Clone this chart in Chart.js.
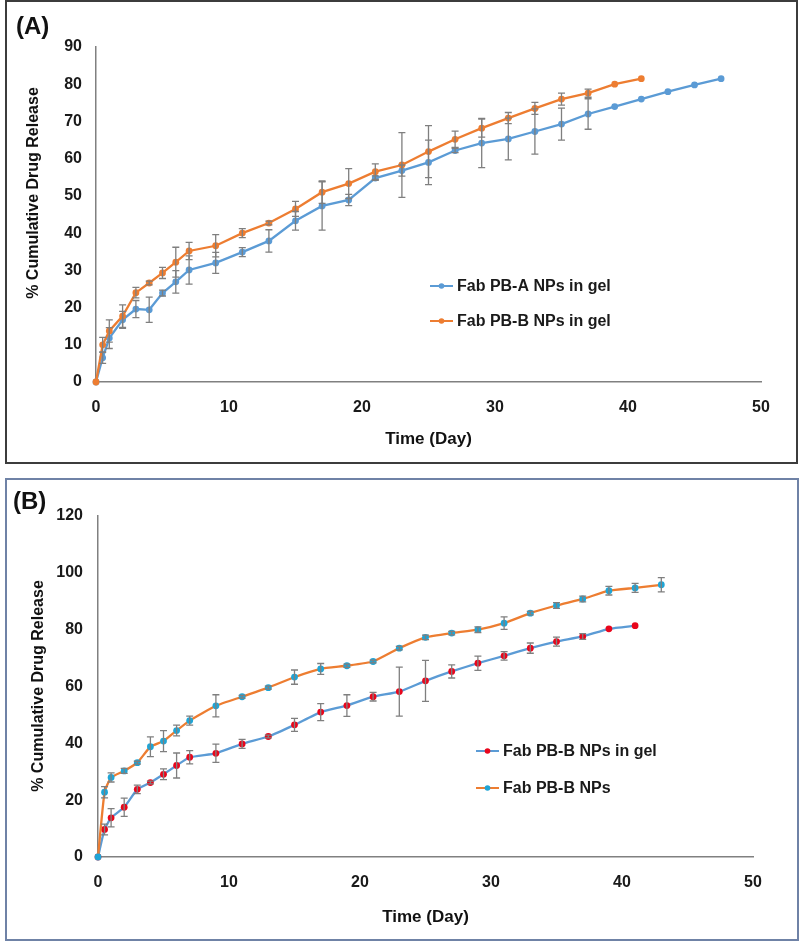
<!DOCTYPE html>
<html>
<head>
<meta charset="utf-8">
<script src="https://cdn.jsdelivr.net/npm/chart.js@4.4.0/dist/chart.umd.min.js"></script>
<style>
  body { margin: 0; background: #fff; width: 800px; height: 942px; position: relative; overflow: hidden; font-family: Arial, "Liberation Sans", sans-serif; }
  .panel { position: absolute; box-sizing: border-box; }
  #panelA { left: 5px; top: 0; width: 793px; height: 464px; border: 2px solid #3c3c3c; }
  #panelB { left: 5px; top: 478px; width: 794px; height: 463px; border: 2px solid #6f82a6; }
  .panel canvas { display: block; }
  .tag { position: absolute; font-weight: bold; font-size: 24px; line-height: 24px; color: #111; }
</style>
</head>
<body>
<div class="panel" id="panelA"><canvas id="chartA" width="789" height="460"></canvas></div>
<div class="panel" id="panelB"><canvas id="chartB" width="790" height="459"></canvas></div>
<div class="tag" style="left:16px; top:14px;">(A)</div>
<div class="tag" style="left:13px; top:489px;">(B)</div>
<script>
// sampling days
const days = [0, 0.5, 1, 2, 3, 4, 5, 6, 7, 9, 11, 13, 15, 17, 19, 21, 23, 25, 27, 29, 31, 33, 35, 37, 39, 41, 43, 45, 47];

// panel A
const pbaGel = [0, 6.5, 11.8, 16.7, 19.6, 19.4, 23.9, 26.9, 30.1, 32.0, 34.9, 37.9, 43.3, 47.3, 48.9, 54.8, 56.8, 59.0, 62.2, 64.2, 65.3, 67.3, 69.3, 72.0, 74.0, 76.0, 78.0, 79.8, 81.5];
const pbaGelErr = [0, 1.5, 2.8, 2.3, 2.3, 3.4, 0.8, 3.0, 3.8, 2.8, 1.2, 3.0, 2.5, 6.5, 1.5, 0.6, 1.5, 6.0, 0.6, 6.6, 5.6, 6.1, 4.3, 4.1, 0, 0, 0, 0, 0];
const pbbGelA = [0, 10.0, 13.7, 17.7, 24.0, 26.6, 29.3, 32.2, 35.2, 36.6, 40.0, 42.7, 46.5, 51.0, 53.3, 56.5, 58.3, 61.9, 65.2, 68.2, 70.9, 73.5, 76.0, 77.6, 80.0, 81.5];
const pbbGelAErr = [0, 2.0, 3.0, 3.0, 1.4, 0.5, 1.5, 4.0, 2.3, 3.0, 1.2, 0.5, 2.0, 3.0, 4.0, 2.1, 8.7, 7.0, 2.2, 2.4, 1.5, 1.6, 1.6, 1.1, 0, 0];

// panel B
const pbbGelB = [0, 9.7, 13.8, 17.5, 23.8, 26.2, 29.1, 32.2, 35.1, 36.5, 39.8, 42.4, 46.5, 51.0, 53.3, 56.4, 58.2, 62.0, 65.3, 68.2, 70.8, 73.5, 75.8, 77.6, 80.3, 81.4];
const pbbGelBErr = [0, 1.9, 3.2, 3.2, 1.5, 0.5, 1.9, 4.4, 2.3, 3.2, 1.6, 0.5, 2.3, 3.0, 3.8, 1.5, 8.6, 7.2, 2.3, 2.5, 1.5, 1.8, 1.6, 1.0, 0, 0];
const pbbNPs = [0, 22.8, 28.0, 30.3, 33.2, 38.8, 40.8, 44.5, 48.0, 53.2, 56.4, 59.6, 63.3, 66.2, 67.3, 68.8, 73.5, 77.3, 78.8, 80.0, 82.3, 85.8, 88.5, 90.8, 93.7, 94.7, 95.8];
const pbbNPsErr = [0, 2.0, 1.6, 0.9, 0.5, 3.5, 3.7, 1.9, 1.6, 3.9, 0.5, 0.5, 2.5, 1.9, 0.6, 0.5, 0.6, 0.8, 0.6, 1.0, 2.2, 0.6, 1.0, 1.0, 1.5, 1.6, 2.5];

const xTicks = [0, 10, 20, 30, 40, 50];
const yTicksA = [0, 10, 20, 30, 40, 50, 60, 70, 80, 90];
const yTicksB = [0, 20, 40, 60, 80, 100, 120];

const BLUE = '#5b9bd5';
const ORANGE = '#ed7d31';
const FONT = 'Arial, "Liberation Sans", sans-serif';

function toPoints(values) {
    return values.map((v, i) => ({ x: days[i], y: v }));
}

// error bars, drawn through the chart scales
const errorBars = {
    id: 'errorBars',
    afterDatasetsDraw(chart) {
        const ctx = chart.ctx;
        const xs = chart.scales.x, ys = chart.scales.y;
        ctx.save();
        ctx.strokeStyle = '#7f7f7f';
        ctx.lineWidth = 1.3;
        chart.data.datasets.forEach(ds => {
            ds.data.forEach((p, i) => {
                const e = ds.errors[i];
                if (!e) return;
                const x = xs.getPixelForValue(p.x);
                const y1 = ys.getPixelForValue(p.y + e);
                const y2 = ys.getPixelForValue(p.y - e);
                ctx.beginPath();
                ctx.moveTo(x, y1); ctx.lineTo(x, y2);
                ctx.moveTo(x - 3.5, y1); ctx.lineTo(x + 3.5, y1);
                ctx.moveTo(x - 3.5, y2); ctx.lineTo(x + 3.5, y2);
                ctx.stroke();
            });
        });
        ctx.restore();
    }
};

// y title + legend
const deco = {
    id: 'deco',
    afterDraw(chart, args, opts) {
        const ctx = chart.ctx;
        ctx.save();
        ctx.fillStyle = '#111';
        ctx.font = 'bold 16px ' + FONT;
        ctx.textAlign = 'center';
        ctx.textBaseline = 'middle';
        ctx.translate(opts.titleX, opts.titleY);
        ctx.rotate(-Math.PI / 2);
        ctx.fillText('% Cumulative Drug Release', 0, 0);
        ctx.restore();

        ctx.save();
        chart.data.datasets.forEach((ds, i) => {
            const y = opts.legendY[i];
            const x = opts.legendX;
            ctx.strokeStyle = ds.borderColor;
            ctx.lineWidth = 2;
            ctx.beginPath();
            ctx.moveTo(x, y); ctx.lineTo(x + 23, y);
            ctx.stroke();
            ctx.fillStyle = ds.pointBackgroundColor;
            ctx.beginPath();
            ctx.arc(x + 11.5, y, 2.8, 0, Math.PI * 2);
            ctx.fill();
            ctx.fillStyle = '#1a1a1a';
            ctx.font = 'bold 16px ' + FONT;
            ctx.textAlign = 'left';
            ctx.textBaseline = 'middle';
            ctx.fillText(ds.label, x + 27, y + 1);
        });
        ctx.restore();
    }
};

function makeChart(id, datasets, yMax, yTicks, lay) {
    return new Chart(document.getElementById(id), {
        type: 'line',
        data: { datasets: datasets },
        options: {
            responsive: false,
            animation: false,
            layout: { padding: { top: lay.top, right: lay.right, left: 0, bottom: 0 } },
            plugins: {
                legend: { display: false },
                tooltip: { enabled: false },
                deco: { titleX: lay.titleX, titleY: lay.titleY, legendX: lay.legendX, legendY: lay.legendY }
            },
            scales: {
                x: {
                    type: 'linear',
                    min: 0, max: 50,
                    afterBuildTicks: s => { s.ticks = xTicks.map(v => ({ value: v })); },
                    ticks: { padding: 16, color: '#1a1a1a', font: { family: FONT, size: 16, weight: 'bold' } },
                    grid: { display: false, drawTicks: false },
                    border: { color: '#808080', width: 1.5 },
                    title: { display: true, text: 'Time (Day)', color: '#111', font: { family: FONT, size: 17, weight: 'bold' }, padding: { top: 0, bottom: lay.titlePad } },
                    afterFit: s => { s.height = lay.xHeight; }
                },
                y: {
                    min: 0, max: yMax,
                    afterBuildTicks: s => { s.ticks = yTicks.map(v => ({ value: v })); },
                    ticks: { padding: lay.yPad, color: '#1a1a1a', font: { family: FONT, size: 16, weight: 'bold' } },
                    grid: { display: false, drawTicks: false },
                    border: { color: '#808080', width: 1.5 },
                    afterFit: s => { s.width = lay.yWidth; }
                }
            }
        },
        plugins: [errorBars, deco]
    });
}

// second series of each panel sits on top, like the original
function series(label, values, errors, line, marker, tension, order) {
    return {
        label: label,
        data: toPoints(values),
        errors: errors,
        borderColor: line,
        borderWidth: 2.3,
        pointBackgroundColor: marker,
        pointBorderColor: marker,
        pointBorderWidth: 0,
        pointRadius: 3.4,
        tension: tension,
        order: order,
        clip: false
    };
}

makeChart('chartA', [
    series('Fab PB-A NPs in gel', pbaGel, pbaGelErr, BLUE, BLUE, 0, 2),
    series('Fab PB-B NPs in gel', pbbGelA, pbbGelAErr, ORANGE, ORANGE, 0, 1)
], 90, yTicksA, {
    top: 45, right: 35, xHeight: 80, yWidth: 89, yPad: 14, titlePad: 12,
    titleX: 27, titleY: 191, legendX: 423, legendY: [284, 319]
});

makeChart('chartB', [
    series('Fab PB-B NPs in gel', pbbGelB, pbbGelBErr, BLUE, '#e8061c', 0.15, 2),
    series('Fab PB-B NPs', pbbNPs, pbbNPsErr, ORANGE, '#1fa5d6', 0.15, 1)
], 120, yTicksB, {
    top: 36, right: 44, xHeight: 82, yWidth: 91, yPad: 15, titlePad: 11,
    titleX: 32, titleY: 206, legendX: 469, legendY: [271, 308]
});
</script>
</body>
</html>
